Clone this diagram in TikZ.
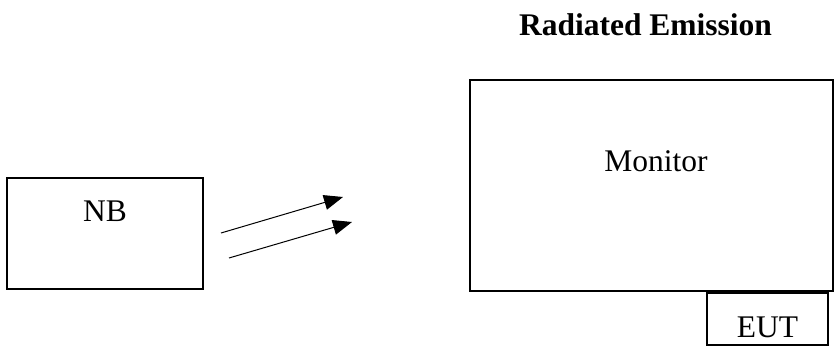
\documentclass[tikz,border=0pt]{standalone}
\usepackage{fontspec}
\setmainfont{Liberation Serif}
\usetikzlibrary{arrows.meta}
\tikzset{
  boxline/.style={draw=black, line width=1.4pt},
  lbl/.style={font=\fontsize{31.5}{38}\selectfont, inner sep=0pt, anchor=base},
  ttl/.style={font=\fontsize{31.5}{38}\selectfont\bfseries, inner sep=0pt, anchor=base},
  wave/.style={line width=1pt, -{Triangle[length=19pt,width=15pt]}}
}
\begin{document}
\begin{tikzpicture}[x=1pt,y=-1pt]
\useasboundingbox (0,0) rectangle (834,347);
% boxes
\draw[boxline] (7,178) rectangle (203,289);
\draw[boxline] (470,80) rectangle (833,291);
\draw[boxline] (707,293) rectangle (828,345);
% texts
\node[ttl] (title) at (645.5,36) {Radiated Emission};
\node[lbl] (nb) at (105,222) {NB};
\node[lbl] (mon) at (656,172) {Monitor};
\node[lbl] (eut) at (767.5,337) {EUT};
% arrows
\coordinate (a1s) at (221,233);
\coordinate (a1e) at (343,197);
\coordinate (a2s) at (229,258);
\coordinate (a2e) at (352,222);
\draw[wave] (a1s) -- (a1e);
\draw[wave] (a2s) -- (a2e);
\end{tikzpicture}
\end{document}
